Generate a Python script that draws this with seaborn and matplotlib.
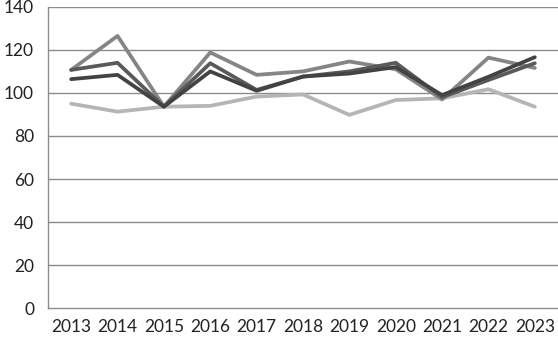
import pandas as pd
import matplotlib.pyplot as plt
import seaborn as sns

years = [2013, 2014, 2015, 2016, 2017, 2018, 2019, 2020, 2021, 2022, 2023]
series_a = [110.7, 126.5, 93.6, 118.8, 108.4, 110.0, 114.6, 111.0, 97.0, 116.4, 111.6]
series_b = [110.7, 114.0, 93.6, 113.8, 101.4, 107.6, 110.0, 114.0, 98.0, 106.0, 113.8]
series_c = [106.4, 108.4, 93.6, 110.0, 101.0, 107.6, 109.0, 112.0, 99.0, 107.5, 116.6]
series_d = [95.0, 91.3, 93.6, 94.0, 98.3, 99.3, 89.8, 96.7, 97.5, 101.7, 93.6]
names = ['A', 'B', 'C', 'D']
colors = ['#858585', '#5a5a5a', '#434343', '#b5b5b5']

rows = []
for name, vals in zip(names, [series_a, series_b, series_c, series_d]):
    for i, v in enumerate(vals):
        rows.append({'pos': i, 'value': v, 'series': name})
df = pd.DataFrame(rows)

sns.set_style('white')
plt.rcParams['font.family'] = ['Lato', 'DejaVu Sans']

fig = plt.figure(figsize=(5.58, 3.42), dpi=100)
ax = fig.add_axes([0.086, 0.099, 0.914, 0.881])

# gridlines
for y in range(20, 141, 20):
    ax.axhline(y, color='#8c8c8c', lw=1.0, zorder=0)

sns.lineplot(data=df, x='pos', y='value', hue='series', palette=dict(zip(names, colors)),
             hue_order=['D', 'A', 'B', 'C'], lw=2.7, legend=False, ax=ax)

ax.set_xlim(-0.5, len(years) - 0.5)
ax.set_ylim(0, 140)
ax.set_yticks(range(0, 141, 20))
ax.set_xticks(range(len(years)))
ax.set_xticklabels([str(y) for y in years])
ax.set_xticks([i - 0.5 for i in range(len(years) + 1)], minor=True)
ax.tick_params(axis='x', which='major', length=0, labelsize=12.5, pad=8, colors='#222222')
ax.tick_params(axis='x', which='minor', length=5, width=1, color='#8c8c8c', direction='out')
ax.tick_params(axis='y', length=5, width=1, labelsize=12.5, pad=5, colors='#222222')
ax.tick_params(axis='y', color='#8c8c8c')
ax.set_xlabel('')
ax.set_ylabel('')

for s in ['top', 'right']:
    ax.spines[s].set_visible(False)
for s in ['left', 'bottom']:
    ax.spines[s].set_color('#8c8c8c')
    ax.spines[s].set_linewidth(1.0)

fig.savefig('out.png', dpi=100)
